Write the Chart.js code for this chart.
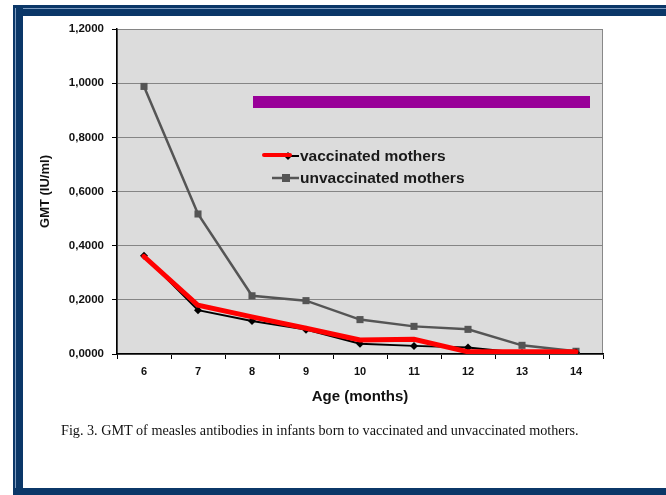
<!DOCTYPE html>
<html>
<head>
<meta charset="utf-8">
<script src="https://cdn.jsdelivr.net/npm/chart.js@4/dist/chart.umd.min.js"></script>
<style>
  html, body { margin: 0; padding: 0; background: #ffffff; }
  body { width: 666px; height: 495px; position: relative; overflow: hidden; }
  #frameTop { position: absolute; left: 13px; top: 5px; width: 653px; height: 11px; background: #0b3768; }
  #frameTopLine { position: absolute; left: 15px; top: 8px; width: 651px; height: 1px; background: #7f9cc0; }
  #frameLeft { position: absolute; left: 13px; top: 5px; width: 10px; height: 490px; background: #0b3768; }
  #frameLeftLine { position: absolute; left: 15px; top: 8px; width: 1px; height: 487px; background: #7f9cc0; }
  #frameBottom { position: absolute; left: 13px; top: 488px; width: 653px; height: 7px; background: #0b3768; }
  #wrap { position: absolute; left: 0; top: 0; width: 666px; height: 495px; }
  #caption { position: absolute; left: 61px; top: 422px; font-family: "Liberation Serif", "DejaVu Serif", serif; font-size: 14.2px; color: #111; white-space: nowrap; }
</style>
</head>
<body>
<div id="frameTop"></div>
<div id="frameTopLine"></div>
<div id="frameLeft"></div>
<div id="frameLeftLine"></div>
<div id="frameBottom"></div>
<div id="wrap"><canvas id="c" width="666" height="495"></canvas></div>
<div id="caption">Fig. 3. GMT of measles antibodies in infants born to vaccinated and unvaccinated mothers.</div>
<script>
// ---- data ----
const ageMonths = ['6', '7', '8', '9', '10', '11', '12', '13', '14'];
const vaccinated = [0.363, 0.162, 0.122, 0.090, 0.038, 0.030, 0.024, 0.004, 0.006];
const vaccinatedRed = [0.360, 0.180, 0.137, 0.095, 0.052, 0.054, 0.008, 0.008, 0.008];
const unvaccinated = [0.988, 0.517, 0.215, 0.197, 0.127, 0.102, 0.091, 0.032, 0.010];
const yTickLabels = ['0,0000', '0,2000', '0,4000', '0,6000', '0,8000', '1,0000', '1,2000'];
const seriesNames = ['vaccinated mothers', 'unvaccinated mothers'];
const xTitle = 'Age (months)';
const yTitle = 'GMT (IU/ml)';

const plotBg = {
  id: 'plotBg',
  beforeDraw(chart) {
    const a = chart.chartArea, ctx = chart.ctx;
    ctx.save();
    ctx.fillStyle = '#dcdcdc';
    ctx.fillRect(a.left, a.top, a.right - a.left, a.bottom - a.top);
    ctx.strokeStyle = '#888888';
    ctx.lineWidth = 1;
    ctx.strokeRect(a.left + 0.5, a.top + 0.5, a.right - a.left - 1, a.bottom - a.top);
    ctx.restore();
  },
  afterDatasetsDraw(chart) {
    const a = chart.chartArea, ctx = chart.ctx;
    ctx.save();
    // purple bar
    ctx.fillStyle = '#990099';
    ctx.fillRect(a.left + 136, a.top + 67, 337, 12);
    // legend
    ctx.font = 'bold 15.5px "Liberation Sans", Arial, sans-serif';
    ctx.fillStyle = '#1a1a1a';
    ctx.textBaseline = 'middle';
    const lx = a.left + 183;
    const y1 = a.top + 127, y2 = a.top + 149;
    // vaccinated entry: black line + diamond + red overlay
    ctx.strokeStyle = '#000'; ctx.lineWidth = 2;
    ctx.beginPath(); ctx.moveTo(lx - 27, y1); ctx.lineTo(lx - 1, y1); ctx.stroke();
    ctx.fillStyle = '#000';
    ctx.beginPath(); ctx.moveTo(lx - 12, y1 - 4); ctx.lineTo(lx - 8, y1); ctx.lineTo(lx - 12, y1 + 4); ctx.lineTo(lx - 16, y1); ctx.closePath(); ctx.fill();
    ctx.strokeStyle = '#ff0000'; ctx.lineWidth = 4; ctx.lineCap = 'round';
    ctx.beginPath(); ctx.moveTo(lx - 36, y1 - 1); ctx.lineTo(lx - 10, y1 - 1); ctx.stroke();
    ctx.lineCap = 'butt';
    // unvaccinated entry
    ctx.strokeStyle = '#555'; ctx.lineWidth = 2.5;
    ctx.beginPath(); ctx.moveTo(lx - 28, y2); ctx.lineTo(lx - 1, y2); ctx.stroke();
    ctx.fillStyle = '#555';
    ctx.fillRect(lx - 18, y2 - 4, 8, 8);
    ctx.fillStyle = '#1a1a1a';
    ctx.fillText(seriesNames[0], lx, y1 + 1);
    ctx.fillText(seriesNames[1], lx, y2 + 1);
    ctx.restore();
  }
};

new Chart(document.getElementById('c'), {
  type: 'line',
  data: {
    labels: ageMonths,
    datasets: [
      { label: seriesNames[1], data: unvaccinated, borderColor: '#555555', backgroundColor: '#555555', borderWidth: 2.5,
        pointStyle: 'rect', pointRadius: 5, pointBorderWidth: 0, tension: 0, order: 3 },
      { label: seriesNames[0], data: vaccinated, borderColor: '#000000', backgroundColor: '#000000', borderWidth: 2,
        pointStyle: 'rectRot', pointRadius: 4, pointBorderWidth: 0, tension: 0, order: 2 },
      { label: seriesNames[0] + ' (overlay)', data: vaccinatedRed, borderColor: '#ff0000', backgroundColor: '#ff0000', borderWidth: 5,
        pointRadius: 0, tension: 0, order: 1, borderCapStyle: 'round' }
    ]
  },
  options: {
    responsive: false,
    animation: false,
    events: [],
    layout: { padding: { left: 38, right: 63, top: 29, bottom: 89 } },
    plugins: { legend: { display: false }, tooltip: { enabled: false } },
    scales: {
      x: {
        offset: true,
        border: { color: '#000', width: 1.5 },
        grid: { display: true, drawOnChartArea: false, offset: true, tickLength: 5, tickColor: '#000', color: '#000' },
        ticks: { color: '#111', padding: 6, font: { family: '"Liberation Sans", Arial, sans-serif', size: 11, weight: 'bold' } },
        title: { display: true, text: xTitle, color: '#111', padding: { top: 4, bottom: 0 },
          font: { family: '"Liberation Sans", Arial, sans-serif', size: 15, weight: 'bold' } },
        afterFit(s) { s.height = 52; }
      },
      y: {
        min: 0, max: 1.2,
        border: { color: '#000', width: 1.5 },
        grid: { color: '#858585', lineWidth: 1, tickLength: 5, tickColor: '#000' },
        ticks: { stepSize: 0.2, color: '#111', padding: 8,
          font: { family: '"Liberation Sans", Arial, sans-serif', size: 11.5, weight: 'bold' },
          callback(v, i) { return yTickLabels[i]; } },
        title: { display: true, text: yTitle, color: '#111', padding: { top: 0, bottom: 4 },
          font: { family: '"Liberation Sans", Arial, sans-serif', size: 13, weight: 'bold' } },
        afterFit(s) { s.width = 79; }
      }
    }
  },
  plugins: [plotBg]
});
</script>
</body>
</html>
